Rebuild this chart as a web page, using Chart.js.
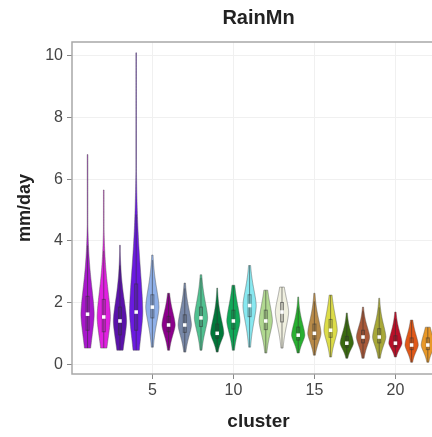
<!DOCTYPE html>
<html>
<head>
<meta charset="utf-8">
<script src="https://cdn.jsdelivr.net/npm/chart.js@4"></script>
<style>
  html, body { margin: 0; padding: 0; background: #fff; overflow: hidden; }
  #wrap { width: 432px; height: 437px; overflow: hidden; }
</style>
</head>
<body>
<div id="wrap"><canvas id="c" width="450" height="437"></canvas></div>
<script>
// valores (mm/day por cluster)
const clusters = [1, 2, 3, 4, 5, 6, 7, 8, 9, 10, 11, 12, 13, 14, 15, 16, 17, 18, 19, 20, 21, 22];
const rainMin  = [0.52, 0.52, 0.45, 0.45, 0.55, 0.45, 0.39, 0.45, 0.39, 0.45, 0.55, 0.36, 0.52, 0.36, 0.29, 0.23, 0.19, 0.19, 0.19, 0.23, 0.06, 0.06];
const rainMax  = [6.8, 5.65, 3.86, 10.1, 3.54, 2.3, 2.63, 2.9, 2.47, 2.56, 3.2, 2.4, 2.5, 2.18, 2.3, 2.24, 1.66, 1.85, 2.14, 1.69, 1.43, 1.2];
const rainMed  = [1.62, 1.53, 1.4, 1.69, 1.85, 1.27, 1.27, 1.5, 1.0, 1.4, 1.9, 1.4, 1.69, 0.94, 1.0, 1.1, 0.68, 0.88, 0.88, 0.68, 0.62, 0.62];
const rainQ1   = [1.1, 1.05, 0.95, 1.1, 1.5, 1.05, 1.03, 1.22, 0.84, 1.14, 1.54, 1.12, 1.37, 0.78, 0.81, 0.87, 0.55, 0.69, 0.69, 0.56, 0.47, 0.47];
const rainQ3   = [2.2, 2.1, 1.85, 2.6, 2.25, 1.55, 1.6, 1.85, 1.3, 1.75, 2.25, 1.75, 2.0, 1.2, 1.3, 1.45, 0.9, 1.1, 1.15, 0.92, 0.85, 0.85];
const colores  = ['#a818cc', '#e020e0', '#5a12aa', '#6a1ae0', '#8fb0e8', '#8c008c', '#7888a8', '#50c090', '#00783a', '#10a858', '#88e8f0',
                  '#b0d890', '#f0f0e0', '#28b030', '#b88a48', '#dcdc48', '#3a6a10', '#a85838', '#a8a838', '#b81028', '#e05818', '#e89828'];
const xTicks = [5, 10, 15, 20];
const yTicks = [0, 2, 4, 6, 8, 10];

const FONT = "'Liberation Sans', Arial, sans-serif";
const HALF_W = 0.41; // medio ancho maximo del violin (unidades de x)

// perfil del violin a partir de mediana y cuartiles
function halfWidth(i, v) {
    const med = rainMed[i];
    const sd = 1.1 * (v < med ? (med - rainQ1[i]) : (rainQ3[i] - med)) / 0.674;
    const z = Math.abs(v - med) / sd;
    return Math.max(HALF_W * Math.exp(-0.5 * Math.pow(z, 1.6)), 0.02);
}

const violinPlugin = {
    id: 'violins',
    beforeDatasetsDraw(chart) {
        const { ctx, scales: { x, y }, chartArea } = chart;
        ctx.save();
        ctx.beginPath();
        ctx.rect(chartArea.left, chartArea.top, chartArea.right - chartArea.left, chartArea.bottom - chartArea.top);
        ctx.clip();
        clusters.forEach((c, i) => {
            const steps = 100;
            const pts = [];
            for (let k = 0; k <= steps; k++) {
                const v = rainMin[i] + (rainMax[i] - rainMin[i]) * k / steps;
                pts.push([v, halfWidth(i, v)]);
            }
            ctx.beginPath();
            pts.forEach(([v, w], k) => {
                const px = x.getPixelForValue(c + w), py = y.getPixelForValue(v);
                if (k === 0) ctx.moveTo(px, py); else ctx.lineTo(px, py);
            });
            for (let k = pts.length - 1; k >= 0; k--) {
                const [v, w] = pts[k];
                ctx.lineTo(x.getPixelForValue(c - w), y.getPixelForValue(v));
            }
            ctx.closePath();
            ctx.fillStyle = colores[i];
            ctx.fill();
            ctx.strokeStyle = 'rgba(80,80,80,0.75)';
            ctx.lineWidth = 0.6;
            ctx.stroke();

            // caja interna
            const cx = x.getPixelForValue(c);
            const iqr = rainQ3[i] - rainQ1[i];
            const wLo = Math.max(rainMin[i], rainQ1[i] - 1.5 * iqr);
            const wHi = Math.min(rainMax[i], rainQ3[i] + 1.5 * iqr);
            ctx.strokeStyle = 'rgba(50,50,50,0.55)';
            ctx.lineWidth = 1;
            ctx.beginPath();
            ctx.moveTo(cx, y.getPixelForValue(wLo));
            ctx.lineTo(cx, y.getPixelForValue(wHi));
            ctx.stroke();
            const top = y.getPixelForValue(rainQ3[i]), bot = y.getPixelForValue(rainQ1[i]);
            ctx.strokeRect(cx - 1.5, top, 3, bot - top);
        });
        ctx.restore();
    },
    afterDraw(chart) {
        const { ctx, chartArea } = chart;
        ctx.save();
        ctx.strokeStyle = '#a8a8a8';
        ctx.lineWidth = 1.5;
        ctx.strokeRect(chartArea.left, chartArea.top, chartArea.right - chartArea.left, chartArea.bottom - chartArea.top);
        ctx.restore();
    }
};

new Chart(document.getElementById('c'), {
    type: 'scatter',
    data: {
        datasets: [{
            label: 'mediana',
            data: clusters.map((c, i) => ({ x: c, y: rainMed[i] })),
            pointStyle: 'rect',
            pointRadius: 2.5,
            backgroundColor: '#ffffff',
            borderWidth: 0
        }]
    },
    options: {
        responsive: false,
        animation: false,
        events: [],
        layout: { padding: { right: 5 } },
        plugins: {
            legend: { display: false },
            tooltip: { enabled: false },
            title: {
                display: true,
                text: 'RainMn',
                fullSize: false,
                color: '#222',
                font: { family: FONT, size: 20, weight: 'bold', lineHeight: 1.2 },
                padding: { top: 6, bottom: 12 }
            }
        },
        scales: {
            x: {
                type: 'linear',
                min: 0.04,
                max: 23.06,
                afterBuildTicks: s => { s.ticks = xTicks.map(v => ({ value: v })); },
                ticks: { color: '#444', font: { family: FONT, size: 16 }, padding: 2 },
                grid: { color: '#f0f0f0', tickColor: '#888', tickLength: 5, lineWidth: 1 },
                border: { display: false },
                title: {
                    display: true, text: 'cluster', color: '#222',
                    font: { family: FONT, size: 19, weight: 'bold' }, padding: { top: 2 }
                },
                afterFit: s => { s.height = 63; }
            },
            y: {
                min: -0.32,
                max: 10.45,
                afterBuildTicks: s => { s.ticks = yTicks.map(v => ({ value: v })); },
                ticks: { color: '#444', font: { family: FONT, size: 16 }, padding: 4 },
                grid: { color: '#f0f0f0', tickColor: '#888', tickLength: 5, lineWidth: 1 },
                border: { display: false },
                title: {
                    display: true, text: 'mm/day', color: '#222',
                    font: { family: FONT, size: 18, weight: 'bold' }, padding: { top: 14, bottom: 0 }
                },
                afterFit: s => { s.width = 72; }
            }
        }
    },
    plugins: [violinPlugin]
});
</script>
</body>
</html>
